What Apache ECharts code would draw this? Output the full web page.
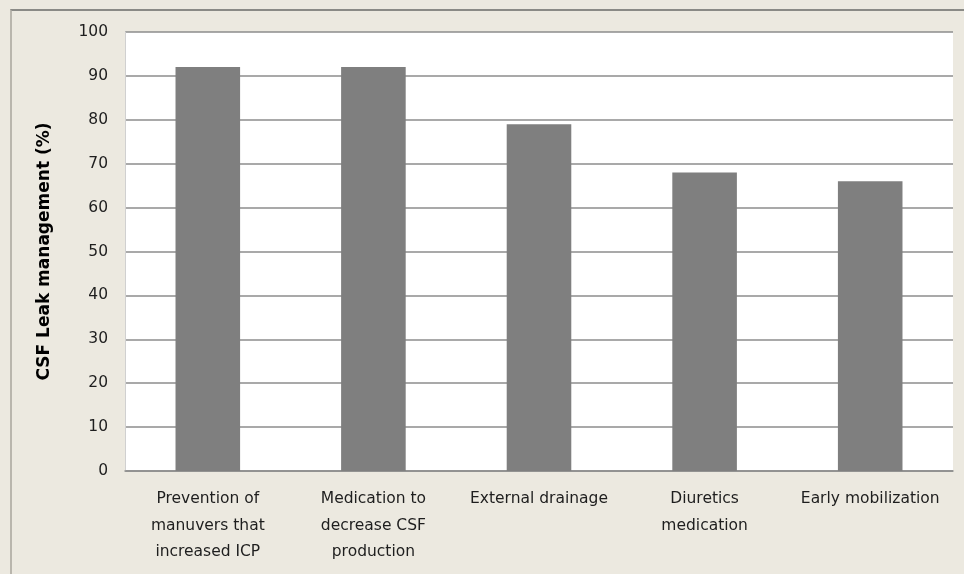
<!DOCTYPE html>
<html>
<head>
<meta charset="utf-8">
<script src="https://cdn.jsdelivr.net/npm/echarts@6/dist/echarts.min.js"></script>
<style>
  html, body { margin: 0; padding: 0; background: #ece9e0; }
  #frame { position: absolute; left: 10px; top: 9px; width: 960px; height: 570px;
           border-top: 2px solid #8a8a86; border-left: 2px solid #b9b6ad; }
  .chart { position: absolute; left: 0; top: 0; width: 964px; height: 574px; }
</style>
</head>
<body>
<div id="frame"></div>
<div class="chart"></div>
<script>
// categories and values
var categories = [
  'Prevention of\nmanuvers that\nincreased ICP',
  'Medication to\ndecrease CSF\nproduction',
  'External drainage',
  'Diuretics\nmedication',
  'Early mobilization'
];
var leakValues = [92, 92, 79, 68, 66];
var yTicks = { min: 0, max: 100, interval: 10 };

let chartDom = document.getElementsByClassName('chart')[0];
let myChart = echarts.init(chartDom);

var option = {
  backgroundColor: 'transparent',
  grid: { left: 125, right: 11, top: 32, bottom: 103, show: true,
          backgroundColor: '#ffffff', borderWidth: 0 },
  xAxis: {
    type: 'category',
    data: categories,
    axisLine: { lineStyle: { color: '#8c8c8c', width: 1.5 } },
    axisTick: { show: false },
    axisLabel: {
      color: '#1e1e1e', fontFamily: 'DejaVu Sans', fontSize: 15.5,
      lineHeight: 26.5, margin: 15, interval: 0
    }
  },
  yAxis: {
    type: 'value',
    min: yTicks.min, max: yTicks.max, interval: yTicks.interval,
    name: 'CSF Leak management (%)',
    nameLocation: 'middle',
    nameGap: 72,
    nameTextStyle: { color: '#000', fontFamily: 'DejaVu Sans', fontSize: 17, fontWeight: 'bold' },
    axisLine: { show: true, lineStyle: { color: '#d0d0d0' } },
    axisTick: { show: false },
    axisLabel: { color: '#1e1e1e', fontFamily: 'DejaVu Sans', fontSize: 15.5, margin: 17 },
    splitLine: { lineStyle: { color: '#8c8c8c', width: 1.5 } }
  },
  series: [{
    type: 'bar',
    data: leakValues,
    barWidth: '39%',
    itemStyle: { color: '#7f7f7f' }
  }]
};
myChart.setOption(option);
</script>
</body>
</html>
